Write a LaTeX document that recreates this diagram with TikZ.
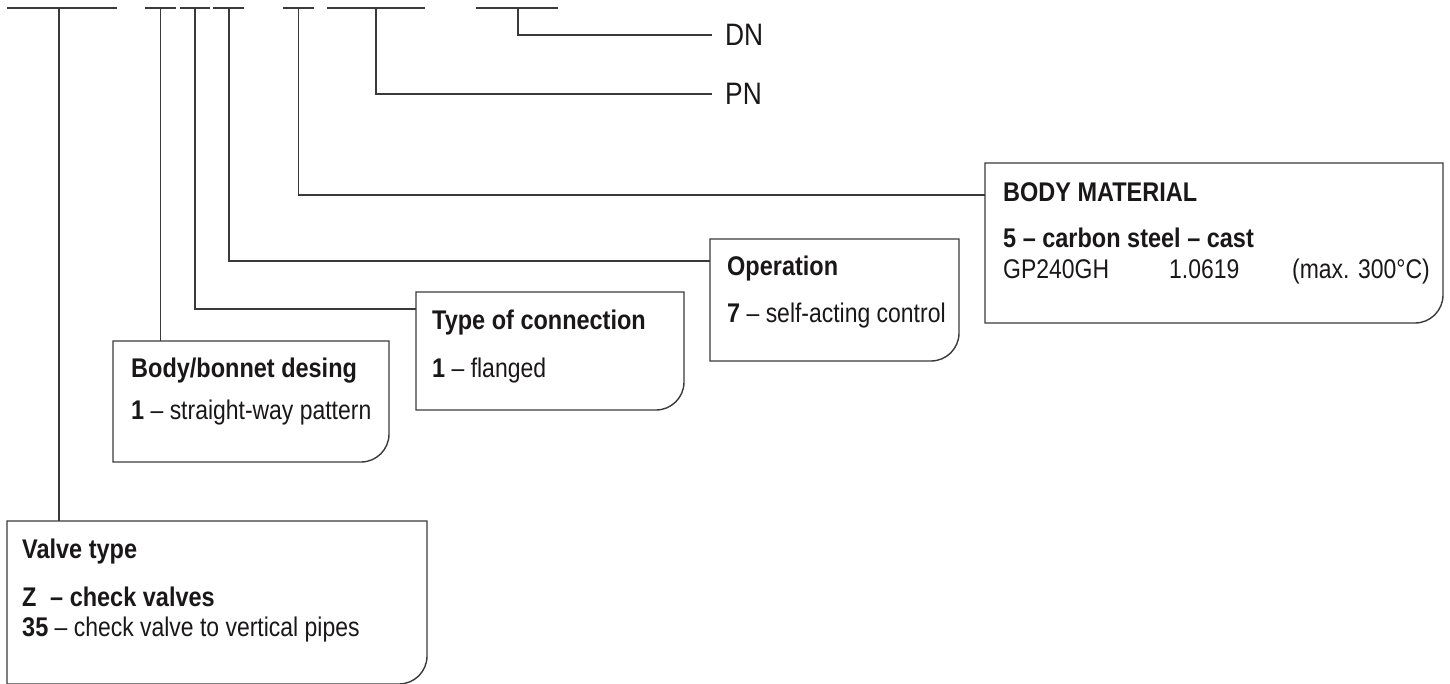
\documentclass[tikz,border=0pt]{standalone}
\usepackage{fontspec}
\setmainfont{Liberation Sans}[FakeStretch=0.85, BoldFeatures={FakeStretch=0.87}]
\definecolor{linecol}{HTML}{3A3A3A}
\definecolor{txtcol}{HTML}{1A1718}
\newcommand{\rboutline}[1]{\draw[boxline] (#1.south west) -- (#1.north west) -- (#1.north east) -- ([yshift=28pt]#1.south east) arc[start angle=0,end angle=-90,radius=28pt] -- cycle;}
\begin{document}
\begin{tikzpicture}[x=1pt,y=1pt,
  conn/.style={draw=linecol, line width=1.3pt},
  boxline/.style={draw=linecol, line width=1.4pt},
  boxnode/.style={draw=none, inner sep=0pt, outer sep=0pt, anchor=north west},
  txt/.style={inner sep=0pt, anchor=base west, text=txtcol, font=\fontsize{27}{32}\selectfont},
  bigtxt/.style={inner sep=0pt, anchor=west, text=txtcol, font=\fontsize{31}{36}\selectfont}]
\useasboundingbox (0,0) rectangle (1450,-684);
% boxes
\node[boxnode, minimum width=420pt, minimum height=163pt] (vt) at (7,-521) {};
\node[boxnode, minimum width=276pt, minimum height=121pt] (bb) at (113,-341) {};
\node[boxnode, minimum width=268pt, minimum height=118pt] (tc) at (416,-292) {};
\node[boxnode, minimum width=249pt, minimum height=122pt] (op) at (710,-239) {};
\node[boxnode, minimum width=458pt, minimum height=160pt] (bm) at (985,-163) {};
\rboutline{vt}
\rboutline{bb}
\rboutline{tc}
\rboutline{op}
\rboutline{bm}
% top code segments
\coordinate (s1) at (59,-8);
\coordinate (s2) at (160.5,-8);
\coordinate (s3) at (195,-8);
\coordinate (s4) at (229,-8);
\coordinate (s5) at (298.5,-8);
\coordinate (s6) at (376,-8);
\coordinate (s7) at (518,-8);
\draw[conn] ([xshift=-52pt]s1) -- ([xshift=58pt]s1);
\draw[conn] ([xshift=-15.5pt]s2) -- ([xshift=15.5pt]s2);
\draw[conn] ([xshift=-15pt]s3) -- ([xshift=15pt]s3);
\draw[conn] ([xshift=-16pt]s4) -- ([xshift=15pt]s4);
\draw[conn] ([xshift=-15.5pt]s5) -- ([xshift=15.5pt]s5);
\draw[conn] ([xshift=-49pt]s6) -- ([xshift=49pt]s6);
\draw[conn] ([xshift=-42pt]s7) -- ([xshift=40pt]s7);
% labels DN / PN
\node[bigtxt] (dn) at (725,-35) {DN};
\node[bigtxt] (pn) at (725,-94) {PN};
% connectors
\draw[conn] (s1) -- (s1 |- vt.north);
\draw[conn] (s2) -- (s2 |- bb.north);
\draw[conn] (s3) |- ([yshift=-17pt]tc.north west);
\draw[conn] (s4) |- ([yshift=-22pt]op.north west);
\draw[conn] (s5) |- ([yshift=-32pt]bm.north west);
\draw[conn] (s6) |- ([xshift=-13pt]pn.west);
\draw[conn] (s7) |- ([xshift=-13pt]dn.west);
% texts
\node[txt] (vt1) at (22,-558) {\bfseries Valve type};
\node[txt] (vt2) at (22,-606) {\bfseries Z};
\node[txt] (vt3) at (50,-606) {\bfseries – check valves};
\node[txt] (vt4) at (22,-636) {\textbf{35} – check valve to vertical pipes};
\node[txt] (bb1) at (131,-377) {\bfseries Body/bonnet desing};
\node[txt] (bb2) at (131,-419) {\textbf{1} – straight-way pattern};
\node[txt] (tc1) at (432,-330) {\bfseries Type of connection};
\node[txt] (tc2) at (432,-377) {\textbf{1} – flanged};
\node[txt] (op1) at (727,-276) {\bfseries Operation};
\node[txt] (op2) at (727,-323) {\textbf{7} – self-acting control};
\node[txt] (bm1) at (1003,-202) {\bfseries BODY MATERIAL};
\node[txt] (bm2) at (1003,-248) {\bfseries 5 – carbon steel – cast};
\node[txt] (bm3) at (1003,-279) {GP240GH};
\node[txt] (bm4) at (1169,-279) {1.0619};
\node[txt] (bm5) at (1292,-279) {(max. 300°C)};
\end{tikzpicture}
\end{document}
